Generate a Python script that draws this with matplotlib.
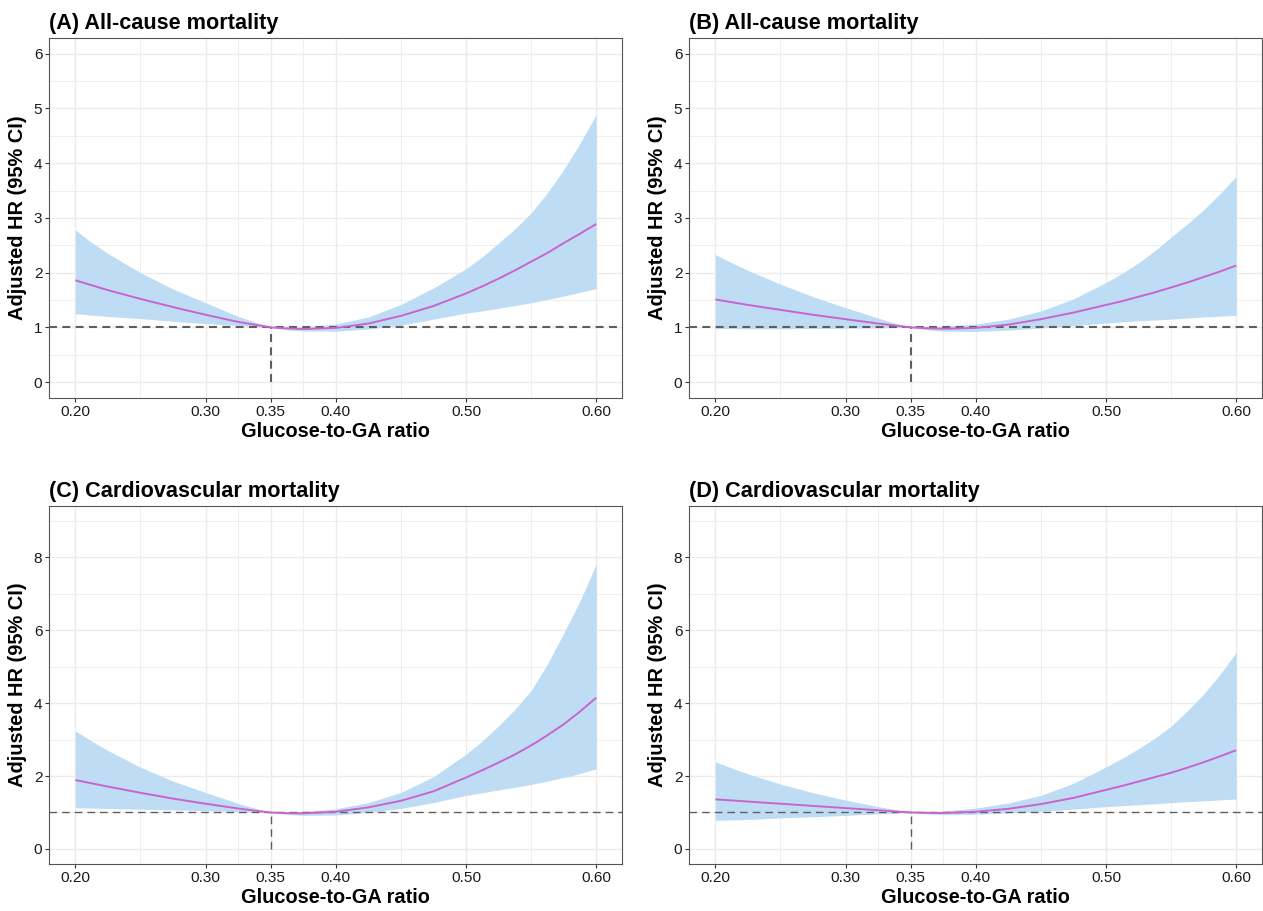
import matplotlib
matplotlib.use("Agg")
import matplotlib.pyplot as plt

plt.rcParams['font.family'] = ['Liberation Sans', 'DejaVu Sans']

# ---------------- data ----------------
ratio = [0.200, 0.2125, 0.225, 0.250, 0.275, 0.300, 0.325, 0.3375, 0.350,
         0.3625, 0.375, 0.400, 0.425, 0.450, 0.475, 0.500, 0.5125, 0.525,
         0.5375, 0.550, 0.5625, 0.575, 0.5875, 0.600]

# (A) All-cause mortality
a_hr = [1.86, 1.77, 1.68, 1.52, 1.37, 1.23, 1.10, 1.05, 1.00,
        0.98, 0.97, 0.99, 1.07, 1.21, 1.39, 1.62, 1.75, 1.89,
        2.04, 2.20, 2.36, 2.54, 2.71, 2.89]
a_hi = [2.78, 2.55, 2.35, 2.00, 1.70, 1.45, 1.20, 1.10, 1.00,
        1.005, 1.01, 1.06, 1.19, 1.42, 1.72, 2.07, 2.29, 2.54,
        2.80, 3.09, 3.46, 3.88, 4.36, 4.89]
a_lo = [1.25, 1.225, 1.20, 1.16, 1.11, 1.07, 1.03, 1.015, 1.00,
        0.955, 0.935, 0.93, 0.97, 1.04, 1.15, 1.26, 1.30, 1.35,
        1.40, 1.45, 1.51, 1.57, 1.64, 1.71]

# (B) All-cause mortality
b_hr = [1.51, 1.46, 1.41, 1.32, 1.23, 1.15, 1.07, 1.035, 1.00,
        0.985, 0.975, 0.99, 1.05, 1.15, 1.27, 1.41, 1.48, 1.56,
        1.64, 1.73, 1.82, 1.92, 2.02, 2.13]
b_hi = [2.33, 2.18, 2.04, 1.79, 1.56, 1.36, 1.17, 1.08, 1.00,
        1.005, 1.02, 1.06, 1.15, 1.30, 1.52, 1.82, 1.99, 2.18,
        2.40, 2.65, 2.89, 3.15, 3.44, 3.76]
b_lo = [0.98, 0.978, 0.975, 0.975, 0.98, 0.985, 0.99, 0.995, 1.00,
        0.955, 0.93, 0.925, 0.95, 0.99, 1.03, 1.08, 1.10, 1.12,
        1.135, 1.15, 1.17, 1.19, 1.205, 1.22]

# (C) Cardiovascular mortality
c_hr = [1.89, 1.80, 1.71, 1.54, 1.38, 1.24, 1.11, 1.05, 1.00,
        0.98, 0.975, 1.02, 1.14, 1.32, 1.58, 1.96, 2.16, 2.37,
        2.59, 2.84, 3.12, 3.42, 3.77, 4.15]
c_hi = [3.24, 2.96, 2.70, 2.24, 1.86, 1.55, 1.25, 1.12, 1.00,
        1.01, 1.03, 1.10, 1.27, 1.55, 1.98, 2.60, 2.96, 3.38,
        3.83, 4.35, 5.07, 5.92, 6.80, 7.82]
c_lo = [1.13, 1.12, 1.11, 1.09, 1.07, 1.05, 1.03, 1.015, 1.00,
        0.95, 0.92, 0.93, 1.00, 1.11, 1.27, 1.47, 1.54, 1.62,
        1.69, 1.77, 1.86, 1.96, 2.07, 2.20]

# (D) Cardiovascular mortality
d_hr = [1.36, 1.33, 1.30, 1.24, 1.18, 1.12, 1.06, 1.03, 1.00,
        0.99, 0.985, 1.02, 1.10, 1.23, 1.40, 1.62, 1.73, 1.85,
        1.97, 2.09, 2.23, 2.38, 2.54, 2.71]
d_hi = [2.39, 2.22, 2.06, 1.78, 1.54, 1.34, 1.16, 1.08, 1.00,
        1.02, 1.04, 1.12, 1.26, 1.47, 1.80, 2.25, 2.49, 2.75,
        3.04, 3.37, 3.79, 4.25, 4.79, 5.39]
d_lo = [0.78, 0.795, 0.81, 0.85, 0.88, 0.92, 0.96, 0.98, 1.00,
        0.96, 0.94, 0.95, 0.99, 1.03, 1.09, 1.16, 1.185, 1.21,
        1.24, 1.27, 1.295, 1.32, 1.345, 1.37]

titles = ["(A) All-cause mortality", "(B) All-cause mortality",
          "(C) Cardiovascular mortality", "(D) Cardiovascular mortality"]

x_breaks = [0.20, 0.30, 0.35, 0.40, 0.50, 0.60]
x_labels = ["0.20", "0.30", "0.35", "0.40", "0.50", "0.60"]
x_minor = [0.25, 0.325, 0.375, 0.45, 0.55]

y_breaks_top = [0, 1, 2, 3, 4, 5, 6]
y_minor_top = [0.5, 1.5, 2.5, 3.5, 4.5, 5.5]
y_breaks_bot = [0, 2, 4, 6, 8]
y_minor_bot = [1, 3, 5, 7, 9]

ref_x = 0.35
ref_hr = 1.0

# ---------------- figure ----------------
W, H = 1263, 911
fig = plt.figure(figsize=(W / 100, H / 100), dpi=100)

def px_axes(l, t, r, b):
    return fig.add_axes([l / W, 1 - b / H, (r - l) / W, (b - t) / H])

panels = [
    (px_axes(49.3, 38.3, 622.3, 398.0), a_hr, a_hi, a_lo, (-0.29, 6.28), y_breaks_top, y_minor_top, 1.5),
    (px_axes(689.3, 38.3, 1262.3, 398.0), b_hr, b_hi, b_lo, (-0.29, 6.28), y_breaks_top, y_minor_top, 1.5),
    (px_axes(49.3, 505.7, 622.3, 864.2), c_hr, c_hi, c_lo, (-0.42, 9.42), y_breaks_bot, y_minor_bot, 1.0),
    (px_axes(689.3, 505.7, 1262.3, 864.2), d_hr, d_hi, d_lo, (-0.42, 9.42), y_breaks_bot, y_minor_bot, 1.0),
]

grid_col = "#EBEBEB"
ribbon_col = "#BEDDF4"
line_col = "#C964CF"
dash_col = "#5E5E5E"

for (ax, hr, hi, lo, ylim, yb, ym, dlw), title in zip(panels, titles):
    ax.set_xlim(0.18, 0.62)
    ax.set_ylim(*ylim)
    ax.set_xticks(x_breaks)
    ax.set_xticklabels(x_labels)
    ax.set_xticks(x_minor, minor=True)
    ax.set_yticks(yb)
    ax.set_yticklabels([str(v) for v in yb])
    ax.set_yticks(ym, minor=True)
    ax.set_axisbelow(True)
    ax.grid(which="major", color=grid_col, linewidth=1.0)
    ax.grid(which="minor", color=grid_col, linewidth=0.55)
    ax.tick_params(which="minor", length=0)
    ax.tick_params(which="major", length=2.6, width=0.8, color="#333333",
                   labelsize=11.1, labelcolor="#1A1A1A", pad=2.4)
    for sp in ax.spines.values():
        sp.set_color("#555555")
        sp.set_linewidth(0.8)

    ax.fill_between(ratio, lo, hi, color=ribbon_col, linewidth=0, zorder=2)
    if dlw > 1.2:
        ls = (0, (3.8, 2.6))
    else:
        ls = (0, (5.5, 3.6))
    ax.axhline(ref_hr, color=dash_col, linewidth=dlw, linestyle=ls, zorder=3)
    ax.plot([ref_x, ref_x], [0, ref_hr], color=dash_col, linewidth=dlw,
            linestyle=ls, zorder=3)
    ax.plot(ratio, hr, color=line_col, linewidth=1.4, zorder=4,
            solid_capstyle="butt")

    ax.set_title(title, loc="left", fontsize=15.6, fontweight="bold", pad=6.5)
    ax.set_ylabel("Adjusted HR (95% CI)", fontsize=14.4, fontweight="bold",
                  labelpad=5)
    ax.set_xlabel("Glucose-to-GA ratio", fontsize=14.4, fontweight="bold",
                  labelpad=2)

fig.savefig("out.png", dpi=100)
